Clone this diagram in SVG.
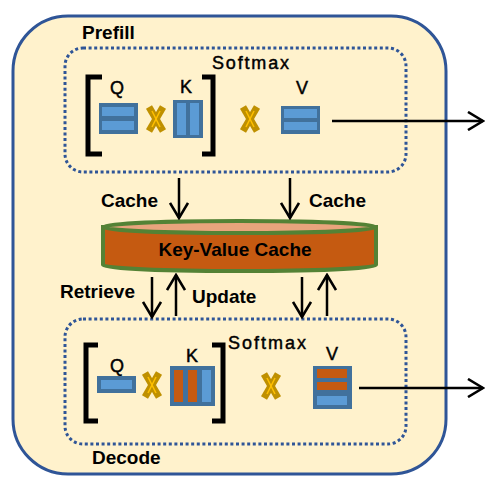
<svg xmlns="http://www.w3.org/2000/svg" width="490" height="489" viewBox="0 0 490 489">
<defs>
<style>
.t{font-family:"Liberation Sans",Arial,sans-serif;font-weight:bold;font-size:19px;fill:#000}
.r{font-family:"Liberation Sans",Arial,sans-serif;font-size:18px;fill:#000;stroke:#000;stroke-width:0.45}
.dot{fill:none;stroke:#2F5597;stroke-width:3;stroke-dasharray:3 2.6}
.mx{fill:#41719C}
.lb{fill:#5B9BD5}
.or{fill:#C55A11}
.br{fill:none;stroke:#000;stroke-width:5}
.ar{fill:none;stroke:#000;stroke-width:2.5;marker-end:url(#ah)}
.xo{stroke:#BF9000;stroke-width:7;stroke-linecap:butt}
.xi{stroke:#FFC000;stroke-width:1.6}
</style>
<marker id="ah" viewBox="0 0 18 20" refX="16" refY="10" markerWidth="18" markerHeight="20" markerUnits="userSpaceOnUse" orient="auto">
<path d="M1,1 L16,10 L1,19" fill="none" stroke="#000" stroke-width="2.6"/>
</marker>
<g id="xmark">
<line class="xo" x1="-7" y1="-12" x2="7" y2="12"/>
<line class="xo" x1="7" y1="-12" x2="-7" y2="12"/>
<line class="xi" x1="-4" y1="-8" x2="4" y2="8"/>
<line class="xi" x1="4" y1="-8" x2="-4" y2="8"/>
</g>
</defs>
<g id="outer">
<rect x="13" y="16" width="433" height="458" rx="55" fill="#FFF2CC" stroke="#2F5597" stroke-width="3"/>
<text class="t" x="82" y="39">Prefill</text>
<text class="t" x="92" y="464">Decode</text>
</g>
<g id="prefill">
<rect class="dot" x="65" y="48" width="341" height="124" rx="18"/>
<text class="r" x="212" y="69" font-size="19.5" textLength="77">Softmax</text>
<path class="br" d="M102,77 L88,77 L88,154 L102,154"/>
<path class="br" d="M202,77 L213,77 L213,154 L202,154"/>
<text class="r" x="117" y="94" text-anchor="middle">Q</text>
<rect class="mx" x="99" y="103" width="39" height="31"/>
<rect class="lb" x="102" y="107" width="32" height="9"/>
<rect class="lb" x="102" y="121" width="32" height="9"/>
<use href="#xmark" x="156" y="119"/>
<text class="r" x="186" y="93" text-anchor="middle">K</text>
<rect class="mx" x="173" y="100" width="30" height="38"/>
<rect class="lb" x="177" y="103" width="9" height="32"/>
<rect class="lb" x="190" y="103" width="9" height="32"/>
<use href="#xmark" x="250" y="119"/>
<text class="r" x="302" y="94" text-anchor="middle">V</text>
<rect class="mx" x="281" y="106" width="39" height="28"/>
<rect class="lb" x="284" y="109" width="33" height="9"/>
<rect class="lb" x="284" y="122" width="33" height="8"/>
</g>
<g id="kvcache">
<path d="M103,227 L103,265 A136.5,6 0 0 0 376,265 L376,227 Z" fill="#C55A11" stroke="#548235" stroke-width="4"/>
<ellipse cx="239.5" cy="227" rx="136.5" ry="6" fill="#E8A47C" stroke="#548235" stroke-width="4"/>
<text class="t" x="235" y="256" text-anchor="middle" font-size="19.5">Key-Value Cache</text>
</g>
<g id="decode">
<rect class="dot" x="65" y="319" width="341" height="125" rx="18"/>
<text class="r" x="228" y="349" font-size="19.5" textLength="78">Softmax</text>
<path class="br" d="M98,345 L86,345 L86,421 L98,421"/>
<path class="br" d="M212,345 L223,345 L223,421 L212,421"/>
<text class="r" x="117" y="372" text-anchor="middle">Q</text>
<rect class="mx" x="97" y="376" width="39" height="17"/>
<rect class="lb" x="101" y="380" width="31" height="9"/>
<use href="#xmark" x="152" y="385"/>
<text class="r" x="192" y="362" text-anchor="middle">K</text>
<rect class="mx" x="170" y="366" width="45" height="40"/>
<rect class="or" x="174" y="370" width="9" height="32"/>
<rect class="or" x="188" y="370" width="9" height="32"/>
<rect class="lb" x="202" y="370" width="9" height="32"/>
<use href="#xmark" x="271" y="386"/>
<text class="r" x="332" y="360" text-anchor="middle">V</text>
<rect class="mx" x="313" y="366" width="39" height="43"/>
<rect class="or" x="317" y="369" width="30" height="9"/>
<rect class="or" x="317" y="382" width="30" height="8"/>
<rect class="lb" x="317" y="396" width="30" height="9"/>
</g>
<g id="connectors">
<line class="ar" x1="332" y1="121" x2="483" y2="121"/>
<line class="ar" x1="359" y1="388" x2="483" y2="388"/>
<line class="ar" x1="179" y1="178" x2="179" y2="218"/>
<line class="ar" x1="290" y1="178" x2="290" y2="218"/>
<line class="ar" x1="152" y1="277" x2="152" y2="317"/>
<line class="ar" x1="176" y1="316" x2="176" y2="275"/>
<line class="ar" x1="302" y1="277" x2="302" y2="317"/>
<line class="ar" x1="327" y1="316" x2="327" y2="275"/>
<text class="t" x="101" y="207">Cache</text>
<text class="t" x="309" y="207">Cache</text>
<text class="t" x="60" y="298" textLength="75">Retrieve</text>
<text class="t" x="192" y="303">Update</text>
</g>
</svg>
